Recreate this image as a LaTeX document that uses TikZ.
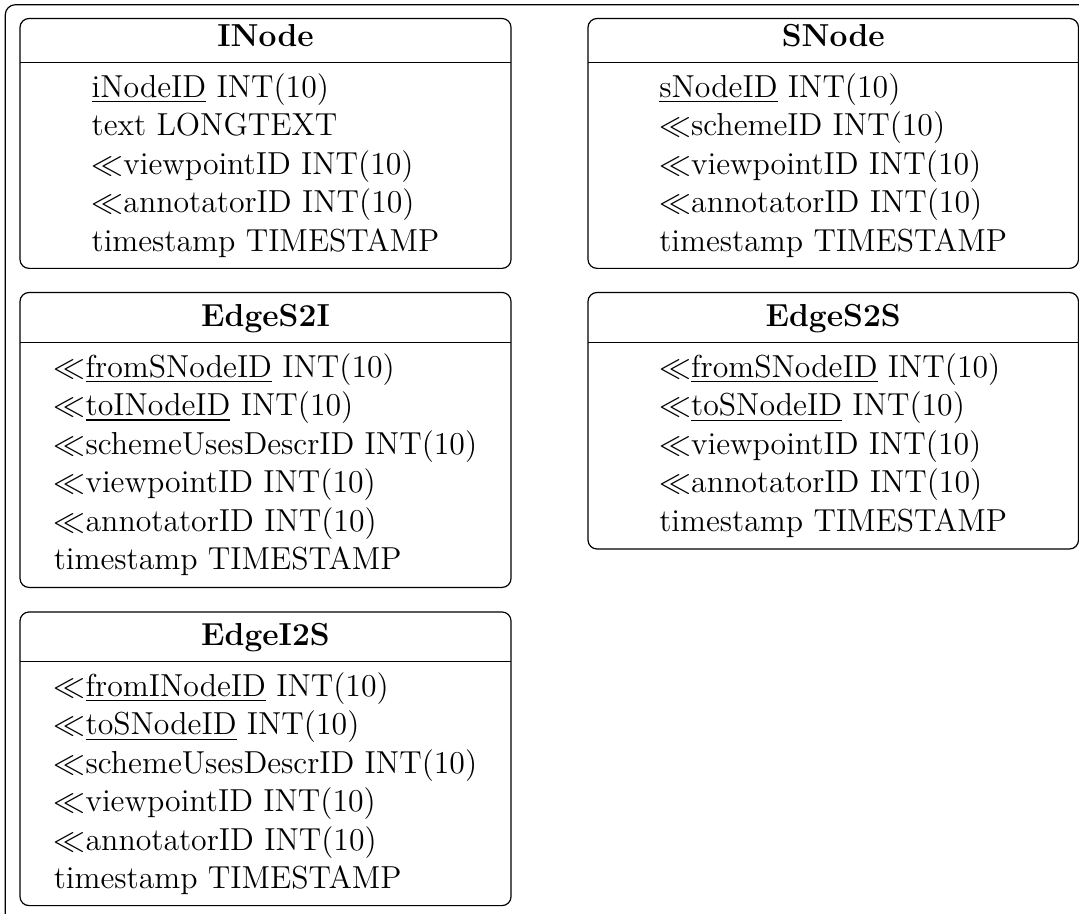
\documentclass[tikz,border=0pt]{standalone}
\begin{document}
\begin{tikzpicture}[x=0.37736pt,y=-0.37736pt,
  tbl/.style={draw, line width=0.45pt, rounded corners=3.4pt, inner sep=0pt, outer sep=0pt, anchor=north west},
  frame/.style={draw, line width=0.45pt, rounded corners=3.8pt},
  ttl/.style={font=\fontsize{12}{14.5}\selectfont\bfseries, anchor=base, inner sep=0pt},
  rows/.style={font=\fontsize{12}{14.5}\selectfont, align=left, anchor=north, inner sep=0pt},
  sep/.style={line width=0.45pt}]
\useasboundingbox (0,0) rectangle (1079,914);
\draw[frame] (5.3,4.7) rectangle (1110,950);
% INode
\node[tbl, minimum width=185.3pt, minimum height=94.3pt] (inode) at (20,18.5) {};
\draw[sep] (inode.west |- 0,62.5) -- (inode.east |- 0,62.5);
\node[ttl] (inodeT) at (inode.north |- 0,46.5) {INode};
\node[rows] (inodeR) at (inode.north |- 0,73.2) {\underline{iNodeID} INT(10)\\ text LONGTEXT\\ $\ll$viewpointID INT(10)\\ $\ll$annotatorID INT(10)\\ timestamp TIMESTAMP};
% SNode
\node[tbl, minimum width=185.1pt, minimum height=94.3pt] (snode) at (588,18.5) {};
\draw[sep] (snode.west |- 0,62.5) -- (snode.east |- 0,62.5);
\node[ttl] (snodeT) at (snode.north |- 0,46.5) {SNode};
\node[rows] (snodeR) at (snode.north |- 0,73.2) {\underline{sNodeID} INT(10)\\ $\ll$schemeID INT(10)\\ $\ll$viewpointID INT(10)\\ $\ll$annotatorID INT(10)\\ timestamp TIMESTAMP};
% EdgeS2I
\node[tbl, minimum width=185.3pt, minimum height=111.3pt] (es2i) at (20,292.5) {};
\draw[sep] (es2i.west |- 0,342.5) -- (es2i.east |- 0,342.5);
\node[ttl] (es2iT) at (es2i.north |- 0,326.5) {EdgeS2I};
\node[rows] (es2iR) at (es2i.north |- 0,353.2) {$\ll$\underline{fromSNodeID} INT(10)\\ $\ll$\underline{toINodeID} INT(10)\\ $\ll$schemeUsesDescrID INT(10)\\ $\ll$viewpointID INT(10)\\ $\ll$annotatorID INT(10)\\ timestamp TIMESTAMP};
% EdgeS2S
\node[tbl, minimum width=185.1pt, minimum height=96.8pt] (es2s) at (588,292.5) {};
\draw[sep] (es2s.west |- 0,342.5) -- (es2s.east |- 0,342.5);
\node[ttl] (es2sT) at (es2s.north |- 0,326.5) {EdgeS2S};
\node[rows] (es2sR) at (es2s.north |- 0,353.2) {$\ll$\underline{fromSNodeID} INT(10)\\ $\ll$\underline{toSNodeID} INT(10)\\ $\ll$viewpointID INT(10)\\ $\ll$annotatorID INT(10)\\ timestamp TIMESTAMP};
% EdgeI2S
\node[tbl, minimum width=185.3pt, minimum height=110.8pt] (ei2s) at (20,612) {};
\draw[sep] (ei2s.west |- 0,661.5) -- (ei2s.east |- 0,661.5);
\node[ttl] (ei2sT) at (ei2s.north |- 0,645.5) {EdgeI2S};
\node[rows] (ei2sR) at (ei2s.north |- 0,672.2) {$\ll$\underline{fromINodeID} INT(10)\\ $\ll$\underline{toSNodeID} INT(10)\\ $\ll$schemeUsesDescrID INT(10)\\ $\ll$viewpointID INT(10)\\ $\ll$annotatorID INT(10)\\ timestamp TIMESTAMP};
\end{tikzpicture}
\end{document}
